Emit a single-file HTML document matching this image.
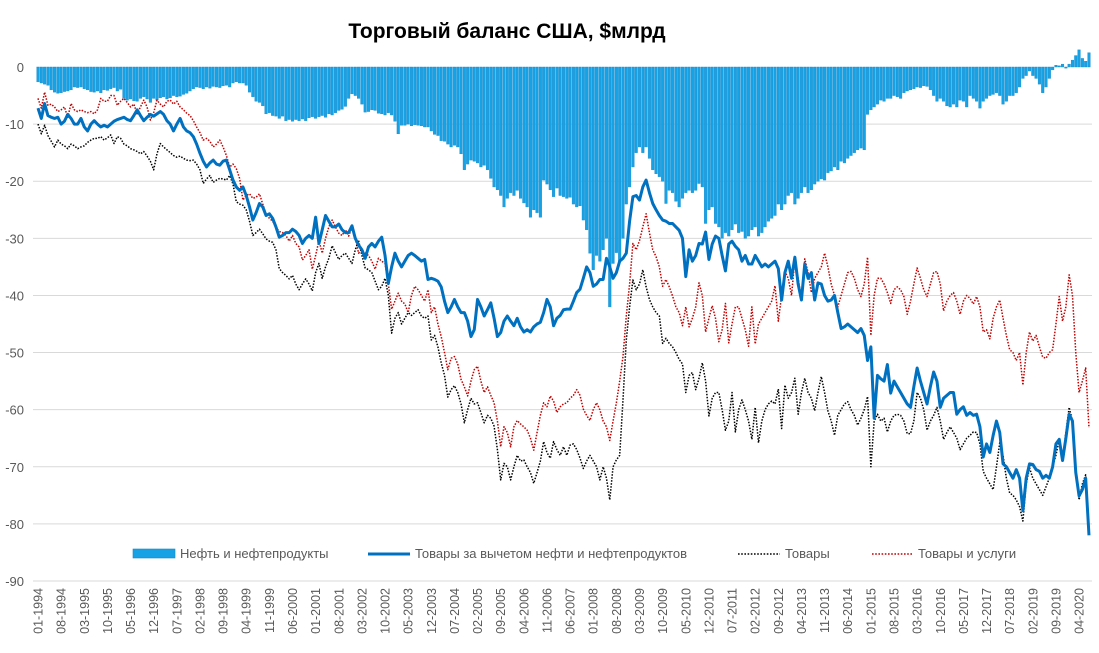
<!DOCTYPE html>
<html><head><meta charset="utf-8">
<style>
html,body{margin:0;padding:0;background:#fff;}
body{width:1099px;height:648px;overflow:hidden;font-family:"Liberation Sans",sans-serif;}
svg text{font-family:"Liberation Sans",sans-serif;}
</style></head>
<body>
<svg id="chart" width="1099" height="648" xmlns="http://www.w3.org/2000/svg">
<text x="507" y="38" text-anchor="middle" font-size="21" font-weight="bold" fill="#000">Торговый баланс США, $млрд</text>
<g id="grid"></g>
<g id="yaxis"></g>
<g id="bars"></g>
<g id="lines"></g>
<g id="xaxis"></g>
<g id="legend">
 <g>
  <rect x="133" y="549" width="42" height="9" fill="#17a2e6" stroke="#1389c9" stroke-width="0.6"/>
  <text x="180" y="558" font-size="13" fill="#595959">Нефть и нефтепродукты</text>
 </g>
 <g>
  <line x1="368" y1="554" x2="410" y2="554" stroke="#0070c0" stroke-width="3"/>
  <text x="415" y="558" font-size="13" fill="#595959">Товары за вычетом нефти и нефтепродуктов</text>
 </g>
 <g>
  <line x1="738" y1="554" x2="780" y2="554" stroke="#000" stroke-width="1.6" stroke-dasharray="1.6,1.6"/>
  <text x="785" y="558" font-size="13" fill="#595959">Товары</text>
 </g>
 <g>
  <line x1="872" y1="554" x2="913" y2="554" stroke="#c00000" stroke-width="1.6" stroke-dasharray="1.6,1.6"/>
  <text x="918" y="558" font-size="13" fill="#595959">Товары и услуги</text>
 </g>
</g>
</svg>
<script>
const startYear = 1994;
const yTicks = [0,-10,-20,-30,-40,-50,-60,-70,-80,-90];
const oil = [
-2.6,-2.8,-3,-3.2,-4,-4.4,-4.6,-4.5,-4.3,-4.2,-4,-3.5,
-3.6,-3.5,-3.8,-4,-4.3,-4.4,-4.2,-4.5,-4,-4.1,-3.8,-3.6,
-4.2,-3.9,-5.5,-5.8,-5.6,-5.9,-6,-5.5,-5.2,-5.6,-6.2,-5.5,
-5.8,-5.4,-5.2,-5.6,-5.4,-5,-5.2,-5.1,-4.8,-4.6,-4.2,-3.8,
-3.5,-3.6,-3.8,-3.5,-3.7,-3.4,-3.5,-3.6,-3.3,-3.2,-3.5,-2.8,
-2.6,-2.8,-2.8,-3.2,-4.4,-5.2,-6,-6.2,-6.8,-8.2,-8,-8.5,
-8.6,-9,-8.6,-9.4,-9.2,-9.5,-9.2,-9.4,-9.1,-9.4,-8.9,-8.7,
-9,-8.7,-8.5,-8.8,-8.2,-8.4,-8,-7.6,-7.4,-6.9,-5.5,-4.7,
-5,-5.5,-6.5,-7.9,-7.8,-7.5,-7.6,-8.1,-8.2,-8.4,-8,-8.4,
-9.5,-11.7,-10.2,-10.2,-10,-10.3,-10.1,-10.2,-10.3,-10.5,-10.5,-11.2,
-11.8,-12,-12.9,-13,-13.5,-14,-13.7,-14,-15.2,-18,-17,-16.3,
-16.5,-16.8,-17.5,-17.2,-18,-19.5,-21,-21.5,-22.5,-24.5,-23,-22,
-22.5,-21.6,-23,-23.8,-24.5,-26.3,-25,-25.5,-26.3,-19.8,-20.5,-21.5,
-22.7,-21.2,-22.5,-22.7,-23,-22.8,-24,-24.5,-24.3,-26.8,-28.5,-32.6,
-35.5,-33,-34,-32,-30,-42,-34.4,-32.5,-34,-30,-24,-21,
-17.5,-15,-14,-15,-14,-16,-18,-18.7,-19.2,-20,-23.9,-21.6,
-22,-23.5,-24.5,-23,-22,-21.6,-22,-21.6,-20.4,-21,-27.4,-25,
-24.5,-27.4,-28,-30,-29,-29.6,-28.5,-27.5,-29,-28.8,-30,-29.6,
-28.5,-28,-29.6,-29,-28,-27,-26.5,-26,-24,-25,-24,-22.5,
-22,-24,-23,-22,-21,-22,-21.5,-20.5,-20,-19.6,-19.8,-18.5,
-18.2,-17.5,-18,-16.5,-16.8,-16,-15.5,-15,-14.5,-14.2,-14.5,-8.3,
-7.5,-7,-6.5,-5.8,-6,-5.5,-5.5,-5,-5.2,-5.5,-4.5,-4.2,
-4,-3.8,-3.5,-3.6,-3.3,-3.4,-4,-5,-6,-5.5,-6,-6.8,
-7,-6.5,-7,-5.8,-6,-7,-5,-5.5,-6,-7.2,-6,-5.5,
-5,-4.8,-4.5,-5,-6.5,-6,-5,-5,-4.5,-3.5,-2,-1.5,
-0.7,-1.5,-2,-3,-4.5,-3.5,-2,-0.5,0.3,0.2,0.5,-0.2,
0.5,1.2,2,3,1.5,1,2.5];
const goodsExOil = [
-7.2,-9,-6.4,-8.5,-8.8,-9,-8.8,-10,-9.5,-8.3,-9,-10,
-10,-9,-10.5,-11.2,-10,-9.4,-10,-10.5,-10.2,-10.5,-10,-9.5,
-9.2,-9,-8.8,-9.2,-9.4,-8.5,-7.5,-8.5,-9.4,-8.8,-8.3,-8.6,
-8.2,-7.8,-8.3,-9.4,-10,-11.2,-10,-9,-10.5,-11.2,-11.5,-12.2,
-13.5,-15.1,-16.5,-17.5,-16.8,-16.3,-17,-17.2,-16.5,-16.3,-18,-19.8,
-21,-21.6,-21,-22.5,-24.5,-26.8,-25.5,-23.9,-24.5,-26,-25.7,-26.5,
-28,-29.8,-29.5,-29,-29,-28.4,-28.8,-29.5,-30.9,-30,-29.5,-30,
-26.3,-30.9,-28.5,-26,-27,-28,-28,-27.5,-28.5,-29,-29,-27.8,
-30,-31.2,-32,-33.5,-31.5,-30.9,-31.5,-30.5,-29.8,-33,-37.9,-35,
-32.6,-34,-35,-34,-33,-32.6,-33,-33.5,-34,-33.7,-37.2,-37,
-37.2,-37.5,-38.5,-41,-43,-42,-40.7,-42,-43,-43,-44.5,-47.2,
-46,-40.7,-42,-43.6,-42.5,-41.3,-44,-47.2,-46.5,-44.5,-43.6,-44.5,
-45.3,-44,-45.5,-46.4,-46,-46.4,-45.5,-45,-44.7,-43,-40.7,-42,
-45.3,-44,-43.5,-42.5,-42.4,-42.4,-41,-39.5,-38.9,-37,-35,-36,
-38.4,-38,-37.2,-37.2,-33.5,-35,-37,-36,-34,-33.5,-32.6,-27,
-22.7,-22.5,-23.3,-21,-19.8,-22,-23.9,-25,-26,-26.8,-27,-27.4,
-27.4,-28,-28.6,-30,-36.7,-32,-34,-33,-30.9,-31,-28.9,-33.7,
-31,-29.6,-30,-33,-35.7,-31,-30.5,-31.4,-32,-34,-33,-34.5,
-34.5,-33,-34,-35,-34.5,-35,-34.5,-34,-35.3,-40.8,-36,-34,
-37,-33.3,-38,-40.8,-34.5,-37,-36,-40.8,-37.8,-38,-40,-41,
-40.8,-40,-43,-45.8,-45.5,-45,-45.5,-46,-46.5,-45.8,-47,-51.4,
-49,-61.5,-54,-54.6,-55,-52.1,-57.1,-55,-56,-57,-58,-59,
-59.6,-56,-52.7,-55,-57,-59,-56,-53.4,-55,-59.6,-58,-57.5,
-57,-57,-60.8,-60,-59.5,-61,-60.5,-61,-60.8,-63,-68.3,-66,
-67.5,-64.5,-62,-64,-69.5,-70,-71,-72,-70.5,-72,-77.7,-72,
-69.5,-69.6,-70.5,-70.8,-72,-71.5,-72,-70,-66,-65.2,-68.9,-65,
-60.8,-62,-71,-75.1,-74,-72,-82];
const goods = [
-10,-11.7,-10.2,-12,-13,-14,-12.8,-13.5,-13.8,-14.3,-13.5,-13.8,
-14.3,-14,-13.8,-13.2,-12.8,-12.5,-12.5,-12.2,-12.8,-12.4,-11.9,-13.4,
-12.2,-12.5,-13.5,-13.8,-14.3,-14.5,-14.8,-15.2,-14.8,-15.6,-16.5,-18,
-15.2,-13.4,-14,-14.5,-15,-15.5,-15.8,-15.6,-16,-16.3,-16.4,-16.3,
-17,-18,-20.4,-19.6,-19,-20.2,-19.8,-19.5,-19.6,-19.8,-19,-20.5,
-23.6,-24,-24.2,-25,-27,-29.5,-29,-28.4,-29.2,-30.1,-30.5,-30.7,
-32,-35.3,-36,-36.5,-37.1,-36.5,-38,-39,-38,-37.1,-38,-39.2,
-36,-34.4,-37,-35,-33.5,-31.3,-32.5,-33.7,-33,-32.6,-33.5,-34.4,
-32,-30.4,-33,-35.2,-35.5,-36,-37.5,-39,-38.4,-37,-40,-46.6,
-44,-43,-45,-44,-43,-43.5,-43,-42.5,-43.6,-44,-43.6,-47.8,
-47,-49,-51.8,-54,-57.8,-56.5,-55.8,-57,-59,-62.3,-60,-58,
-59,-58.8,-60.5,-62.3,-61,-61.5,-62.9,-67,-72.3,-69.4,-70,-72.3,
-70,-68,-69,-68.8,-70,-71,-72.9,-71,-69,-65.6,-67.5,-68.5,
-65.6,-67,-68,-66.5,-68,-66.2,-66,-67,-68.5,-70.3,-69,-68,
-69,-70,-72.3,-70,-72,-75.8,-70,-68.8,-68,-58.3,-47.8,-42,
-37.3,-39,-38,-35.5,-38.5,-40.7,-42,-43,-43.6,-48.4,-47.5,-48.4,
-49,-50,-51.2,-52,-57,-54,-53.5,-56.5,-54.5,-51.8,-55,-61.1,
-58,-57,-57,-60,-63.6,-62,-57,-63.9,-60,-58.3,-60,-62,
-65.2,-59.6,-65.8,-62,-60,-59,-58.5,-59,-56.4,-63.3,-55.7,-58,
-57,-54.5,-60.8,-57,-54.5,-57,-58,-60.2,-57,-54.2,-57,-60.2,
-62,-64.5,-61,-60,-59,-58.6,-60,-61,-62.7,-61.5,-60,-57.7,
-70,-62,-60.8,-62,-61.5,-63.9,-62,-61,-60.8,-61,-62,-64.2,
-64.2,-62,-57,-58,-60,-63.6,-62,-61,-59.6,-62,-65.2,-64,
-63,-64,-65,-67,-66,-65,-64.5,-63.9,-64,-66,-70.8,-72,
-73,-74,-70,-65.8,-68,-72,-74.6,-75,-75.8,-77,-79.5,-73,
-70.2,-72,-73,-74,-75,-73.5,-72,-70,-68,-65.2,-68.9,-64,
-59.6,-62,-70,-75.8,-73,-71.4,-80.8];
const goodsServices = [
-5.5,-7.2,-4.4,-6.7,-6.5,-7,-7.8,-7.5,-7,-8.8,-6.4,-7.5,
-7.8,-7.5,-7.8,-8,-7.8,-8.2,-7.5,-5.5,-6,-6,-5,-5,
-6.7,-6,-5.5,-6.2,-7,-6.5,-8.2,-7,-5.8,-7,-9.3,-8,
-5.8,-6.5,-7,-6,-5.8,-6.5,-6,-7,-7.5,-8.1,-8.5,-9.4,
-10.5,-11.5,-12.8,-12.5,-13,-14,-13.5,-12.8,-14,-15.5,-17.5,-17,
-17.8,-19.5,-23.3,-22.5,-22.2,-23,-22.8,-22.2,-24,-25.7,-26.5,-27,
-28.1,-28.8,-29,-29.5,-30.5,-29.5,-30.9,-31.5,-33.8,-33,-32,-35.4,
-33,-30.4,-32.6,-30,-28,-26.8,-28,-29.1,-29.5,-28.5,-29.6,-28.1,
-30,-32.6,-32,-32.6,-33,-34,-35.4,-33.5,-34,-34.4,-38,-42.4,
-41,-39.6,-41,-41.5,-43,-40,-38.4,-39,-40,-41,-39,-43,
-42,-45,-47.2,-50,-53,-51,-50.7,-52,-54.7,-56,-57.6,-55,
-53,-52.4,-55,-57,-56,-57.5,-58.8,-62,-66.5,-63,-64,-66.5,
-63,-61.9,-62.5,-63,-63.6,-65,-67.1,-64,-61,-58.8,-59.5,-57.6,
-58.5,-60.5,-59.5,-59,-58.8,-58,-57.5,-56.5,-57.5,-59.9,-61,-61.9,
-60,-58.8,-60,-62,-63,-65.4,-62,-58.8,-55,-50.7,-43.6,-38,
-30.9,-32,-30.4,-28,-25.7,-29,-32,-33.2,-35,-38.4,-37.2,-38.5,
-40.1,-42,-43,-45.3,-42,-45.5,-44,-42,-37.8,-40,-46.4,-44,
-41.8,-44,-48.1,-46,-41.4,-48.3,-45,-42,-42,-44,-46,-48.9,
-42,-48.5,-45,-44,-43,-42,-41,-38.3,-44.5,-40,-35.8,-37,
-40,-33.6,-37,-40.8,-33.6,-36,-39.5,-37,-36,-35,-32.6,-35,
-38,-40,-42,-40,-38,-36,-35.8,-37,-39,-40.2,-38,-33.3,
-47,-40,-37,-37,-38,-39.5,-41.4,-39,-38.5,-39,-40.2,-43.3,
-41,-38,-35.2,-37,-39,-40.2,-38,-36,-35.8,-38,-42.7,-41,
-40,-39.5,-41,-43.3,-41,-40,-40.5,-41.5,-40.2,-42,-46.4,-46,
-47.6,-44,-42,-40.8,-44,-47,-49.5,-50,-51.4,-50,-55.7,-50,
-46.4,-48,-47,-49,-50.8,-51,-50,-49.5,-45,-40.2,-44.5,-42,
-36.4,-40,-50,-57,-55,-52.7,-63.2];

const NS = "http://www.w3.org/2000/svg";
const X0 = 38, DX = 3.305, Y0 = 67, PY = 5.711;
function xs(i){ return X0 + i*DX; }
function ys(v){ return Y0 - v*PY; }
function mk(tag, attrs, parent){
  const e = document.createElementNS(NS, tag);
  for (const k in attrs) e.setAttribute(k, attrs[k]);
  parent.appendChild(e);
  return e;
}
const grid = document.getElementById('grid');
const yaxis = document.getElementById('yaxis');
yTicks.forEach(t => {
  if (t !== 0) {
    const g = mk('line', {x1:33, x2:1092, y1:ys(t), y2:ys(t), stroke:'#d9d9d9', 'stroke-width':1}, grid);
    
    
  }
  const tx = mk('text', {x:24, y:ys(t)+5, 'text-anchor':'end', 'font-size':13, fill:'#595959'}, yaxis);
  tx.textContent = String(t);
  
  
});
const bars = document.getElementById('bars');
oil.forEach((v, i) => {
  const y1 = ys(Math.max(v,0)), y2 = ys(Math.min(v,0));
  const r = mk('rect', {x:xs(i)-1.3, y:y1, width:2.6, height:Math.max(y2-y1,0.3), fill:'#17a2e6', stroke:'#1389c9', 'stroke-width':0.4}, bars);
  
  
});
const lines = document.getElementById('lines');
function path(arr, attrs, name){
  const d = arr.map((v,i) => (i?'L':'M') + xs(i).toFixed(2) + ',' + ys(v).toFixed(2)).join('');
  const p = mk('path', Object.assign({d:d, fill:'none', 'stroke-linejoin':'round'}, attrs), lines);
  
  
}
path(goodsServices, {stroke:'#c00000', 'stroke-width':1.5, 'stroke-dasharray':'1.5,1.5'}, 'goods-services-line');
path(goods, {stroke:'#000', 'stroke-width':1.5, 'stroke-dasharray':'1.5,1.5'}, 'goods-line');
path(goodsExOil, {stroke:'#0070c0', 'stroke-width':3}, 'goods-ex-oil-line');
const xaxis = document.getElementById('xaxis');
for (let m = 0; m <= 315; m += 7) {
  const yr = startYear + Math.floor(m/12), mo = (m%12)+1;
  const label = (mo<10?'0':'') + mo + '-' + yr;
  const x = xs(m) + 4.5, y = 588;
  const t = mk('text', {x:x, y:y, 'text-anchor':'end', 'font-size':12.5, fill:'#595959', transform:'rotate(-90 '+x+' '+y+')'}, xaxis);
  t.textContent = label;
  
  
}
</script>
</body></html>
